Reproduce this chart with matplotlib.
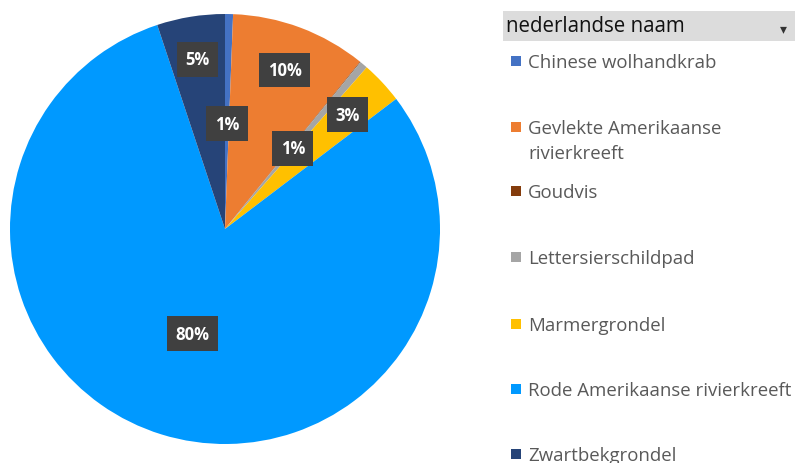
import numpy as np
import matplotlib.pyplot as plt
from matplotlib.patches import Rectangle

plt.rcParams['font.family'] = ['Open Sans', 'DejaVu Sans']

# data (aandeel per soort, in %)
soorten = ["Chinese wolhandkrab", "Gevlekte Amerikaanse\nrivierkreeft", "Goudvis",
           "Lettersierschildpad", "Marmergrondel", "Rode Amerikaanse rivierkreeft",
           "Zwartbekgrondel"]
aandeel = [0.6, 10.2, 0.05, 0.6, 3.2, 80.2, 5.1]
labels = ["1%", "10%", "", "1%", "3%", "80%", "5%"]
kleuren = ["#4472C4", "#ED7D31", "#843C0C", "#A5A5A5", "#FFC000", "#0099FF", "#264478"]
label_r = [0.49, 0.79, 0.5, 0.49, 0.78, 0.51, 0.80]

W, H = 795, 464
fig = plt.figure(figsize=(W / 100, H / 100), dpi=100)

cx, cy, R = 225, 230, 215
ax = fig.add_axes([(cx - R) / W, (H - cy - R) / H, 2 * R / W, 2 * R / H])
wedges, _ = ax.pie(aandeel, colors=kleuren, startangle=90, counterclock=False,
                   radius=1, wedgeprops=dict(linewidth=0))
ax.set_xlim(-1, 1)
ax.set_ylim(-1, 1)
ax.set_aspect('equal')
ax.axis('off')

# data labels in donkere kaders
for w, lab, r in zip(wedges, labels, label_r):
    if not lab:
        continue
    mid = np.deg2rad((w.theta1 + w.theta2) / 2)
    x, y = r * np.cos(mid), r * np.sin(mid)
    ax.text(x, y, lab, ha='center', va='center', color='white', fontsize=12,
            fontweight='bold',
            bbox=dict(boxstyle='square,pad=0.5', fc='#404040', ec='none'))

# legenda met kop
kop_y0, kop_y1 = 12, 42
fig.patches.append(Rectangle((503 / W, 1 - kop_y1 / H), (W - 503) / W, (kop_y1 - kop_y0) / H,
                             transform=fig.transFigure, fc='#DCDCDC', ec='none'))
fig.text(506 / W, 1 - 27 / H, "nederlandse naam", fontsize=14.8, color='#111111',
         va='center', ha='left')
fig.text(783 / W, 1 - 29 / H, "▾", fontsize=10, color='#333333', va='center', ha='center',
         family='DejaVu Sans')

leg_y = [62, 128, 192, 258, 325, 390, 455]
for naam, kleur, y in zip(soorten, kleuren, leg_y):
    fig.patches.append(Rectangle((511 / W, 1 - (y + 5) / H), 10 / W, 10 / H,
                                 transform=fig.transFigure, fc=kleur, ec='none'))
    fig.text(528 / W, 1 - (y - 8) / H, naam, fontsize=13.4, color='#595959',
             va='top', ha='left', linespacing=1.5)

fig.savefig("out.png", dpi=100)
